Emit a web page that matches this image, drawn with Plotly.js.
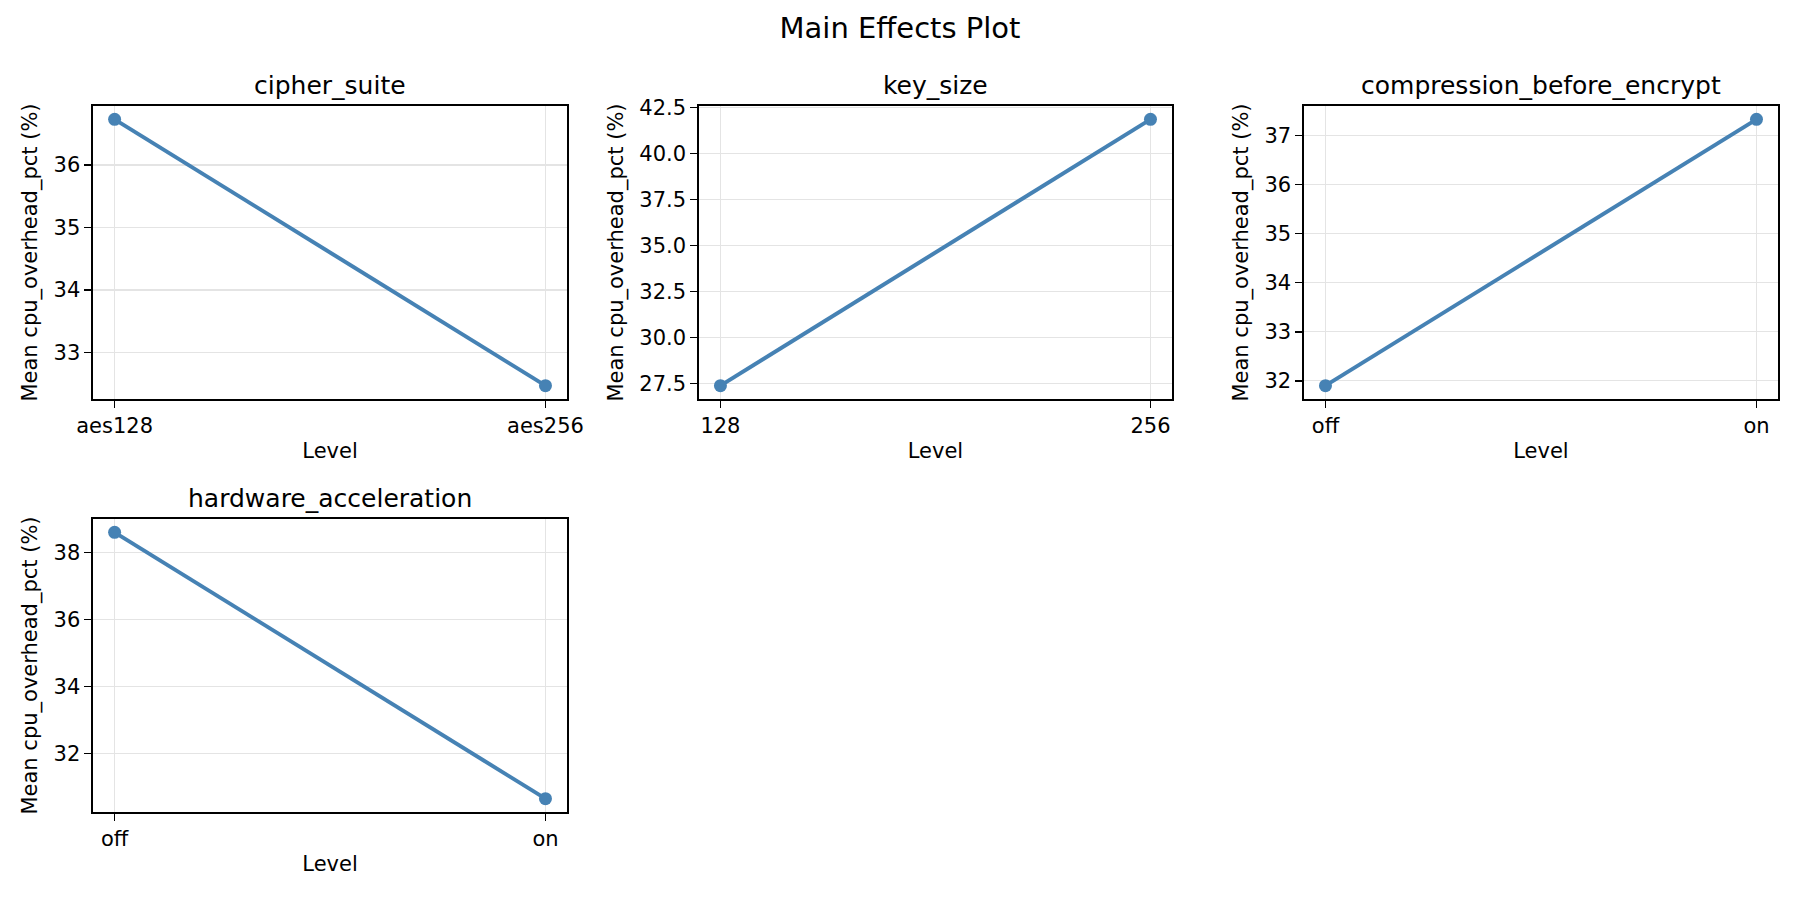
<!DOCTYPE html>
<html>
<head>
<meta charset="utf-8">
<script src="https://cdn.plot.ly/plotly-3.0.1.min.js"></script>
<style>
  body { margin: 0; background: #fff; }
  #mainEffects { width: 1800px; height: 900px; }
</style>
</head>
<body>
<div id="mainEffects"></div>
<script>
// factor names (subplot titles)
const factors = ['cipher_suite', 'key_size', 'compression_before_encrypt', 'hardware_acceleration'];

// levels and mean cpu overhead per factor
const cipherLevels = ['aes128', 'aes256'];
const cipherMeans = [36.73, 32.47];

const keyLevels = ['128', '256'];
const keyMeans = [27.39, 41.85];

const compressionLevels = ['off', 'on'];
const compressionMeans = [31.90, 37.33];

const hwLevels = ['off', 'on'];
const hwMeans = [38.60, 30.65];

const yLabel = 'Mean cpu_overhead_pct (%)';
const xLabel = 'Level';

const FONT = 'DejaVu Sans';
const LINE_COLOR = '#4682b4';

// panel positions (fractions of the 1800x900 page)
const colDomains = [[0.0517, 0.3150], [0.3883, 0.6511], [0.7244, 0.9878]];
const rowDomains = [[0.5567, 0.8822], [0.0978, 0.4233]];

function padRange(vals) {
    const lo = Math.min(...vals), hi = Math.max(...vals);
    const pad = (hi - lo) * 0.05;
    return [lo - pad, hi + pad];
}

function xAxis(domain, anchor) {
    return {
        domain: domain,
        anchor: anchor,
        type: 'category',
        range: [-0.05, 1.05],
        showgrid: true,
        gridcolor: '#e4e4e4',
        gridwidth: 1.4,
        zeroline: false,
        showline: true,
        mirror: true,
        linecolor: '#000',
        linewidth: 1.6,
        ticks: 'outside',
        ticklen: 7,
        tickwidth: 1.6,
        tickcolor: '#000',
        tickfont: { family: FONT, size: 21, color: '#000' },
        title: { text: xLabel, font: { family: FONT, size: 21, color: '#000' }, standoff: 6 },
        fixedrange: true
    };
}

function yAxis(domain, anchor, vals, dtick, fmt) {
    return {
        domain: domain,
        anchor: anchor,
        range: padRange(vals),
        dtick: dtick,
        tickformat: fmt,
        showgrid: true,
        gridcolor: '#e4e4e4',
        gridwidth: 1.4,
        zeroline: false,
        showline: true,
        mirror: true,
        linecolor: '#000',
        linewidth: 1.6,
        ticks: 'outside',
        ticklen: 7,
        tickwidth: 1.6,
        tickcolor: '#000',
        tickfont: { family: FONT, size: 21, color: '#000' },
        title: { text: yLabel, font: { family: FONT, size: 21, color: '#000' }, standoff: 10 },
        fixedrange: true
    };
}

function effectTrace(levels, means, xa, ya) {
    return {
        x: levels,
        y: means,
        xaxis: xa,
        yaxis: ya,
        type: 'scatter',
        mode: 'lines+markers',
        line: { color: LINE_COLOR, width: 4 },
        marker: { color: LINE_COLOR, size: 13 },
        showlegend: false,
        hoverinfo: 'x+y'
    };
}

const traces = [
    effectTrace(cipherLevels, cipherMeans, 'x', 'y'),
    effectTrace(keyLevels, keyMeans, 'x2', 'y2'),
    effectTrace(compressionLevels, compressionMeans, 'x3', 'y3'),
    effectTrace(hwLevels, hwMeans, 'x4', 'y4')
];

// subplot titles sit just above each panel
const panelPos = [
    [colDomains[0], rowDomains[0]],
    [colDomains[1], rowDomains[0]],
    [colDomains[2], rowDomains[0]],
    [colDomains[0], rowDomains[1]]
];
const annotations = factors.map((f, i) => ({
    text: f,
    xref: 'paper', yref: 'paper',
    x: (panelPos[i][0][0] + panelPos[i][0][1]) / 2,
    y: panelPos[i][1][1],
    xanchor: 'center', yanchor: 'middle',
    yshift: 21,
    showarrow: false,
    font: { family: FONT, size: 25, color: '#000' }
}));

const layout = {
    width: 1800,
    height: 900,
    margin: { l: 0, r: 0, t: 0, b: 0 },
    paper_bgcolor: '#fff',
    plot_bgcolor: '#fff',
    font: { family: FONT, color: '#000' },
    title: {
        text: 'Main Effects Plot',
        x: 0.5, xref: 'paper',
        y: 1 - 28 / 900, yref: 'container',
        xanchor: 'center', yanchor: 'middle',
        font: { family: FONT, size: 29, color: '#000' }
    },
    xaxis: xAxis(colDomains[0], 'y'),
    yaxis: yAxis(rowDomains[0], 'x', cipherMeans, 1),
    xaxis2: xAxis(colDomains[1], 'y2'),
    yaxis2: yAxis(rowDomains[0], 'x2', keyMeans, 2.5, '.1f'),
    xaxis3: xAxis(colDomains[2], 'y3'),
    yaxis3: yAxis(rowDomains[0], 'x3', compressionMeans, 1),
    xaxis4: xAxis(colDomains[0], 'y4'),
    yaxis4: yAxis(rowDomains[1], 'x4', hwMeans, 2),
    annotations: annotations
};

Plotly.newPlot('mainEffects', traces, layout, { displayModeBar: false, staticPlot: true });
</script>
</body>
</html>
